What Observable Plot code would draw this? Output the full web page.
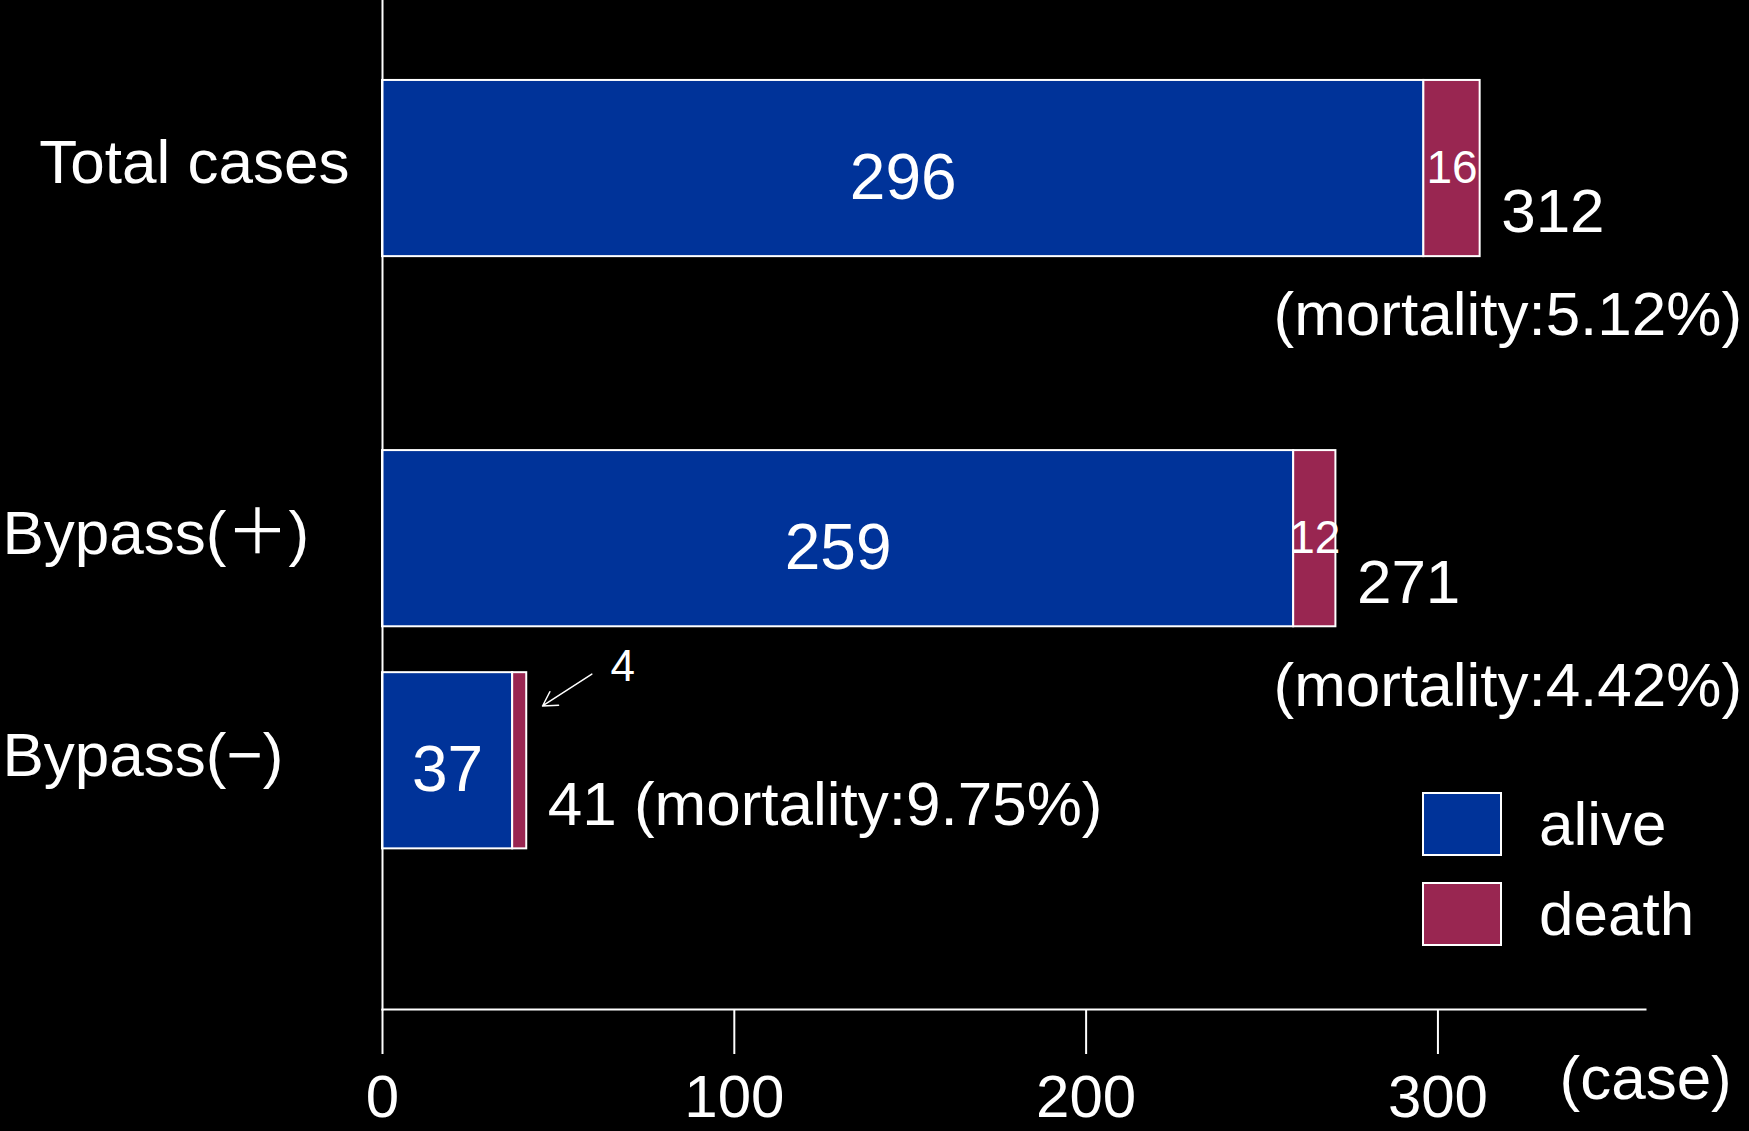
<!DOCTYPE html>
<html>
<head>
<meta charset="utf-8">
<script src="https://cdn.jsdelivr.net/npm/d3@7"></script>
<script src="https://cdn.jsdelivr.net/npm/@observablehq/plot@0.6"></script>
<style>
  html, body { margin: 0; padding: 0; background: #000; }
  #wrap { position: relative; width: 1749px; height: 1131px; overflow: hidden;
          font-family: "Liberation Sans", Arial, "Noto Sans CJK JP", sans-serif; }
  .legend { position: absolute; left: 1422px; top: 792px; color: #fff; }
  .legend .row { display: flex; align-items: center; height: 64px; margin-bottom: 26px; }
  .legend .sw { width: 76px; height: 60px; border: 2px solid #fff; }
  .legend .lab { margin-left: 37px; font-size: 62px; line-height: 1; }
</style>
</head>
<body>
<div id="wrap"></div>
<script>
// ---- data ----
const categories = ["Total cases", "Bypass(＋)", "Bypass(−)"];
const alive = [296, 259, 37];
const death = [16, 12, 4];
const mortality = [5.12, 4.42, 9.75];
const xTicks = [0, 100, 200, 300];
const statuses = ["alive", "death"];
const colors = ["#003399", "#992651"];
const xUnit = "(case)";

// ---- layout ----
const rowSlot = [0, 5, 8];   // vertical slot of each row
const half = 1.19;           // half bar thickness, in slot units
const FONT = '"Liberation Sans", Arial, "Noto Sans CJK JP", sans-serif';

const rows = categories.map((c, i) => ({
  category: c, idx: i, slot: rowSlot[i],
  alive: alive[i], death: death[i], total: alive[i] + death[i], mortality: mortality[i]
}));
const segs = rows.flatMap(r => [
  {category: r.category, slot: r.slot, status: statuses[0], x1: 0, x2: r.alive},
  {category: r.category, slot: r.slot, status: statuses[1], x1: r.alive, x2: r.total}
]);
const wide = rows.filter(r => r.total >= 100);
const narrow = rows.filter(r => r.total < 100);

const chart = Plot.plot({
  width: 1749, height: 1131,
  marginLeft: 382, marginRight: 104, marginTop: 0, marginBottom: 122,
  style: {background: "#000", color: "#fff", fontFamily: FONT, overflow: "visible"},
  x: {domain: [0, 359]},
  y: {domain: [-2.27, 11.36], reverse: true, axis: null},
  color: {domain: statuses, range: colors},
  marks: [
    Plot.rectX(segs, {x1: "x1", x2: "x2", y1: d => d.slot - half, y2: d => d.slot + half,
      fill: "status", stroke: "#fff", strokeWidth: 2}),
    Plot.frame({anchor: "left", stroke: "#fff", strokeWidth: 2}),
    Plot.frame({anchor: "bottom", stroke: "#fff", strokeWidth: 2}),
    Plot.axisX(xTicks, {tickSize: 45, tickPadding: 20, strokeWidth: 2, fontSize: 60, label: null}),
    Plot.text([xUnit], {frameAnchor: "bottom-right", textAnchor: "start", lineAnchor: "middle",
      dx: -86, dy: 70, fontSize: 62, fill: "#fff"}),
    // category labels
    Plot.text(rows.filter(r => r.idx === 0), {y: "slot", text: "category", frameAnchor: "left",
      textAnchor: "end", dx: -33, dy: -5, fontSize: 62, fill: "#fff"}),
    Plot.text(rows.filter(r => r.idx > 0), {y: "slot", text: "category", frameAnchor: "left",
      textAnchor: "start", dx: -380, dy: -5, fontSize: 62, fill: "#fff"}),
    // values inside bars
    Plot.text(rows, {x: r => r.alive / 2, y: "slot", text: r => String(r.alive),
      dy: 10, fontSize: 64, fill: "#fff"}),
    Plot.text(wide, {x: r => r.alive + r.death / 2, y: "slot", text: r => String(r.death),
      fontSize: 46, fill: "#fff"}),
    // totals
    Plot.text(wide, {x: "total", y: "slot", text: r => String(r.total),
      textAnchor: "start", dx: 21, dy: 44, fontSize: 62, fill: "#fff"}),
    Plot.text(wide, {y: "slot", text: r => `(mortality:${r.mortality.toFixed(2)}%)`,
      frameAnchor: "left", textAnchor: "start", dx: 891, dy: 147, fontSize: 62, fill: "#fff"}),
    Plot.text(narrow, {x: "total", y: "slot", text: r => `${r.total} (mortality:${r.mortality.toFixed(2)}%)`,
      textAnchor: "start", dx: 21, dy: 44, fontSize: 62, fill: "#fff"}),
    // small death annotation
    Plot.arrow(narrow, {x1: r => r.total + 18.5, y1: r => r.slot - half + 0.02,
      x2: r => r.total + 4.5, y2: r => r.slot - half + 0.45,
      stroke: "#fff", strokeWidth: 1.5, headLength: 16}),
    Plot.text(narrow, {x: "total", y: r => r.slot - half, text: r => String(r.death),
      dx: 96, dy: -6, fontSize: 44, fill: "#fff"})
  ]
});

const wrap = document.getElementById("wrap");
wrap.appendChild(chart);

const legend = document.createElement("div");
legend.className = "legend";
statuses.forEach((s, i) => {
  const row = document.createElement("div");
  row.className = "row";
  const sw = document.createElement("div");
  sw.className = "sw";
  sw.style.background = colors[i];
  const lab = document.createElement("div");
  lab.className = "lab";
  lab.textContent = s;
  row.appendChild(sw); row.appendChild(lab);
  legend.appendChild(row);
});
wrap.appendChild(legend);
</script>
</body>
</html>
